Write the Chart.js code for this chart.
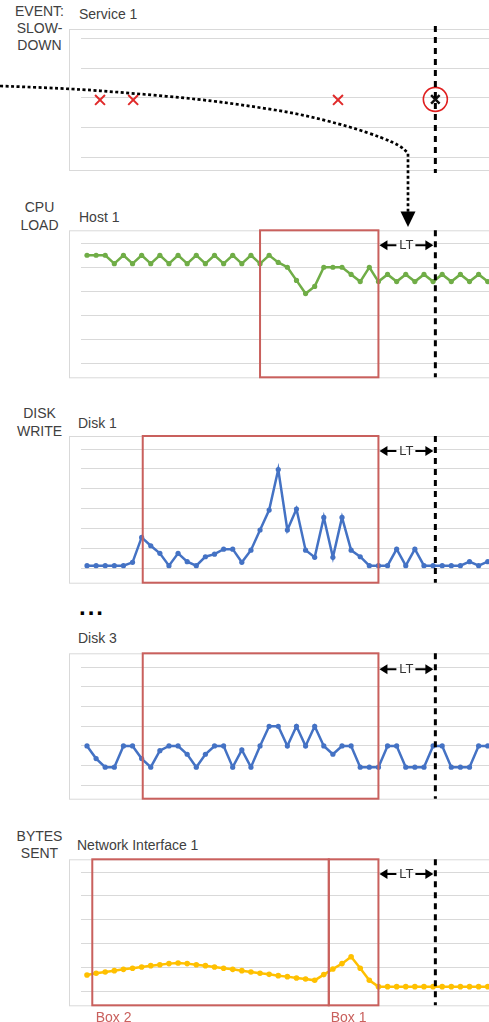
<!DOCTYPE html>
<html>
<head>
<meta charset="utf-8">
<script src="https://cdn.jsdelivr.net/npm/chart.js@4.4.1/dist/chart.umd.min.js"></script>
<style>
    html, body { margin: 0; padding: 0; background: #fff; }
    body { position: relative; width: 489px; height: 1022px; overflow: hidden; font-family: "Liberation Sans", Arial, sans-serif; color: #404040; }
    canvas { position: absolute; left: 0; }
    .lbl { position: absolute; font-size: 14px; line-height: 16px; white-space: nowrap; }
    .side { position: absolute; left: 0; width: 79px; text-align: center; font-size: 14px; white-space: nowrap; }
    .boxlbl { position: absolute; font-size: 14px; line-height: 16px; color: #c9605d; }
    .dots { position: absolute; left: 79px; top: 595px; font-size: 24px; line-height: 24px; font-weight: bold; letter-spacing: 2px; color: #000; }
</style>
</head>
<body>
<div class="side" style="top:2.5px; line-height:17px;">EVENT:<br>SLOW-<br>DOWN</div>
<div class="side" style="top:198px; line-height:18px;">CPU<br>LOAD</div>
<div class="side" style="top:404px; line-height:18px;">DISK<br>WRITE</div>
<div class="side" style="top:827.5px; line-height:17px;">BYTES<br>SENT</div>

<div class="lbl" style="left:79px; top:6px;">Service 1</div>
<div class="lbl" style="left:79px; top:208.7px;">Host 1</div>
<div class="lbl" style="left:78px; top:414.7px;">Disk 1</div>
<div class="dots">...</div>
<div class="lbl" style="left:78px; top:630px;">Disk 3</div>
<div class="lbl" style="left:77px; top:837px;">Network Interface 1</div>

<canvas id="c1" width="489" height="232" style="top:0px"></canvas>
<canvas id="c2" width="489" height="185" style="top:200px"></canvas>
<canvas id="c3" width="489" height="160" style="top:430px"></canvas>
<canvas id="c4" width="489" height="160" style="top:645px"></canvas>
<canvas id="c5" width="489" height="172" style="top:850px"></canvas>

<div class="boxlbl" style="left:95.7px; top:1009px;">Box 2</div>
<div class="boxlbl" style="left:330.7px; top:1009px;">Box 1</div>

<script>
(function() {
    "use strict";

    // ---- data (one value per time step) ----
    var eventTimes = [1.43, 5.07, 27.56];
    var eventLevels = [1.93, 1.93, 1.93];
    var slowdownTime = 38.25;
    var slowdownLevel = 1.95;

    var cpuLoad = [90, 90, 90, 83, 90, 83, 90, 83, 90, 83, 90, 83, 90, 83, 90, 83, 90, 83, 90, 83, 90,
        84, 80, 69, 58, 64, 80, 80, 80, 74, 68, 80, 68, 74, 68, 74, 68, 74, 68, 74, 68, 74, 68, 74, 68];

    var disk1Write = [1.5, 1.5, 1.5, 1.5, 1.5, 3.2, 15.7, 11.5, 7.7, 1.5,
        7.7, 3.5, 1.5, 6, 7.3, 9.8, 9.8, 3.2, 9.3, 19.4,
        29.4, 49.7, 19.4, 29.9, 9.3, 5.7, 25.7, 5.7, 25.7, 9.3,
        6, 1.5, 1.5, 1.5, 9.8, 1.5, 9.8, 1.5, 1.5, 1.5,
        1.5, 1.5, 3.5, 1.5, 3.5];

    var disk3Write = [20, 13.6, 9.2, 9.2, 20, 20, 13.6, 9.2, 17.6, 20,
        20, 15.8, 9.2, 15.8, 20, 20, 9.2, 18, 9.2, 20,
        30, 30, 20, 30, 20, 30, 20, 15.8, 20, 20,
        9.2, 9.2, 9.2, 20, 20, 9.2, 9.2, 9.2, 20, 20,
        9.2, 9.2, 9.2, 20, 20];

    var bytesSent = [13.7, 15.1, 16.2, 17.3, 18.4, 19.3, 20.4, 21.5, 22.3, 23.2,
        23.7, 23.2, 22.3, 21.5, 20.4, 19.3, 18.4, 17.3, 16.2, 15.1,
        14.2, 13.1, 12.3, 11.2, 10.3, 9.2, 14, 18.7, 23.2, 29,
        19.3, 9.2, 3.9, 3.9, 3.9, 3.9, 3.9, 3.9, 3.9, 3.9,
        3.9, 3.9, 3.9, 3.9, 3.9];

    // analysis windows (in time steps)
    var cpuBox = [19.0, 32.0];
    var diskBox = [6.12, 32.0];
    var netBox2 = [0.58, 26.55];
    var netBox1 = [26.55, 32.0];

    // y axes: [min, max, step]
    var eventAxis = [0, 4, 1];
    var loadAxis = [0, 100, 20];
    var diskAxis = [0, 60, 10];
    var netAxis = [0, 100, 20];

    var RED_BOX = "#c9605d";
    var GRID = "#d9d9d9";

    function toPoints(values) {
        return values.map(function(v, i) {
            return { x: i, y: v };
        });
    }

    function arrowHead(ctx, x, y, dir) {
        ctx.beginPath();
        ctx.moveTo(x, y);
        ctx.lineTo(x - dir * 8, y - 5);
        ctx.lineTo(x - dir * 8, y + 5);
        ctx.closePath();
        ctx.fill();
    }

    // curved dotted arrow from the event row down into the CPU panel
    var curvePath = [[0, 86], [67, 88.3], [133, 93.3], [200, 99.3], [250, 106], [300, 114],
        [350, 126.7], [383, 138], [400, 145.7], [408, 153], [408, 212]];

    function makeDecor(p) {
        return {
            id: "decor",
            beforeDraw: function(chart) {
                var ctx = chart.ctx;
                ctx.save();
                ctx.strokeStyle = GRID;
                ctx.lineWidth = 1;
                ctx.strokeRect(69.5, p.boxTop - p.top + 0.5, 500, p.boxBottom - p.boxTop);
                ctx.restore();
            },
            afterDatasetsDraw: function(chart) {
                var ctx = chart.ctx;
                var xs = chart.scales.x;
                var area = chart.chartArea;
                var y0 = p.boxTop - p.top;
                var y1 = p.boxBottom - p.top;

                ctx.save();

                ctx.strokeStyle = RED_BOX;
                ctx.lineWidth = 2;
                p.boxes.forEach(function(b) {
                    var xa = xs.getPixelForValue(b[0]);
                    var xb = xs.getPixelForValue(b[1]);
                    ctx.strokeRect(xa, y0, xb - xa, y1 - y0);
                });

                var xe = xs.getPixelForValue(slowdownTime);
                ctx.strokeStyle = "#000";
                ctx.lineWidth = 3;
                ctx.setLineDash([6, 5]);
                ctx.beginPath();
                ctx.moveTo(xe, y0 - p.ext);
                ctx.lineTo(xe, y1 + p.ext);
                ctx.stroke();
                ctx.setLineDash([]);

                if (p.boxes.length) {
                    var xl = xs.getPixelForValue(p.boxes[p.boxes.length - 1][1]) + 1;
                    var xr = xe - 2;
                    var yl = area.top + 2;
                    var xm = (xl + xr) / 2;
                    ctx.fillStyle = "#000";
                    ctx.lineWidth = 2;
                    ctx.beginPath();
                    ctx.moveTo(xl + 4, yl);
                    ctx.lineTo(xm - 10, yl);
                    ctx.moveTo(xm + 9, yl);
                    ctx.lineTo(xr - 4, yl);
                    ctx.stroke();
                    arrowHead(ctx, xl, yl, -1);
                    arrowHead(ctx, xr, yl, 1);
                    ctx.fillStyle = "#333";
                    ctx.font = "13px 'Liberation Sans', Arial, sans-serif";
                    ctx.textAlign = "center";
                    ctx.textBaseline = "middle";
                    ctx.fillText("LT", xm, yl + 0.5);
                }

                if (p.curve) {
                    ctx.strokeStyle = "#000";
                    ctx.lineWidth = 2.7;
                    ctx.setLineDash([3, 2.5]);
                    ctx.beginPath();
                    ctx.moveTo(curvePath[0][0], curvePath[0][1] - p.top);
                    for (var i = 1; i < curvePath.length - 2; i++) {
                        var mx = (curvePath[i][0] + curvePath[i + 1][0]) / 2;
                        var my = (curvePath[i][1] + curvePath[i + 1][1]) / 2;
                        ctx.quadraticCurveTo(curvePath[i][0], curvePath[i][1] - p.top, mx, my - p.top);
                    }
                    ctx.lineTo(curvePath[curvePath.length - 2][0], curvePath[curvePath.length - 2][1] - p.top);
                    ctx.lineTo(curvePath[curvePath.length - 1][0], curvePath[curvePath.length - 1][1] - p.top);
                    ctx.stroke();
                    ctx.setLineDash([]);
                    ctx.fillStyle = "#000";
                    ctx.beginPath();
                    ctx.moveTo(400.5, 211.5 - p.top);
                    ctx.lineTo(415.5, 211.5 - p.top);
                    ctx.lineTo(408, 227 - p.top);
                    ctx.closePath();
                    ctx.fill();
                }

                ctx.restore();
            }
        };
    }

    function lineSet(values, color, radius) {
        return {
            data: toPoints(values),
            borderColor: color,
            backgroundColor: color,
            borderWidth: 2.5,
            pointRadius: radius,
            pointBorderWidth: 0,
            pointBackgroundColor: color,
            tension: 0,
            fill: false
        };
    }

    function makeChart(id, p, axis, datasets) {
        var canvas = document.getElementById(id);
        var h = canvas.height;
        return new Chart(canvas.getContext("2d"), {
            type: "line",
            data: { datasets: datasets },
            options: {
                responsive: false,
                animation: false,
                events: [],
                layout: {
                    autoPadding: false,
                    padding: {
                        left: 81,
                        right: 0,
                        top: p.gridTop - p.top,
                        bottom: p.top + h - p.gridBottom
                    }
                },
                plugins: {
                    legend: { display: false },
                    tooltip: { enabled: false }
                },
                scales: {
                    x: {
                        type: "linear",
                        min: -0.659,
                        max: 44.14,
                        display: false
                    },
                    y: {
                        min: axis[0],
                        max: axis[1],
                        ticks: { display: false, stepSize: axis[2] },
                        grid: { color: GRID, drawTicks: false, lineWidth: 1 },
                        border: { display: false }
                    }
                }
            },
            plugins: [makeDecor(p)]
        });
    }

    var eventData = eventTimes.map(function(t, i) {
        return { x: t, y: eventLevels[i] };
    });

    makeChart("c1", { top: 0, gridTop: 38.7, gridBottom: 157, boxTop: 29, boxBottom: 170, ext: 3, boxes: [], curve: true }, eventAxis, [{
        data: eventData,
        showLine: false,
        pointStyle: "crossRot",
        pointRadius: 7,
        pointBorderColor: "#e02a2a",
        pointBorderWidth: 2
    }, {
        data: [{ x: slowdownTime, y: slowdownLevel }],
        showLine: false,
        pointStyle: "crossRot",
        pointRadius: 6,
        pointBorderColor: "#111",
        pointBorderWidth: 2.5
    }, {
        data: [{ x: slowdownTime, y: slowdownLevel }],
        showLine: false,
        pointStyle: "circle",
        pointRadius: 12,
        pointBackgroundColor: "rgba(0,0,0,0)",
        pointBorderColor: "#e02020",
        pointBorderWidth: 1.6
    }]);

    makeChart("c2", { top: 200, gridTop: 243.3, gridBottom: 363, boxTop: 230.3, boxBottom: 377.3, ext: 0, boxes: [cpuBox] },
        loadAxis, [lineSet(cpuLoad, "#70ad47", 2.6)]);

    makeChart("c3", { top: 430, gridTop: 449, gridBottom: 568.7, boxTop: 436, boxBottom: 582.7, ext: 0, boxes: [diskBox] },
        diskAxis, [lineSet(disk1Write, "#4472c4", 2.6)]);

    makeChart("c4", { top: 645, gridTop: 667.3, gridBottom: 785.3, boxTop: 653.3, boxBottom: 798.7, ext: 0, boxes: [diskBox] },
        diskAxis, [lineSet(disk3Write, "#4472c4", 2.6)]);

    makeChart("c5", { top: 850, gridTop: 872, gridBottom: 991.3, boxTop: 859.3, boxBottom: 1005.3, ext: 0, boxes: [netBox2, netBox1] },
        netAxis, [lineSet(bytesSent, "#ffc000", 2.8)]);
})();
</script>
</body>
</html>
